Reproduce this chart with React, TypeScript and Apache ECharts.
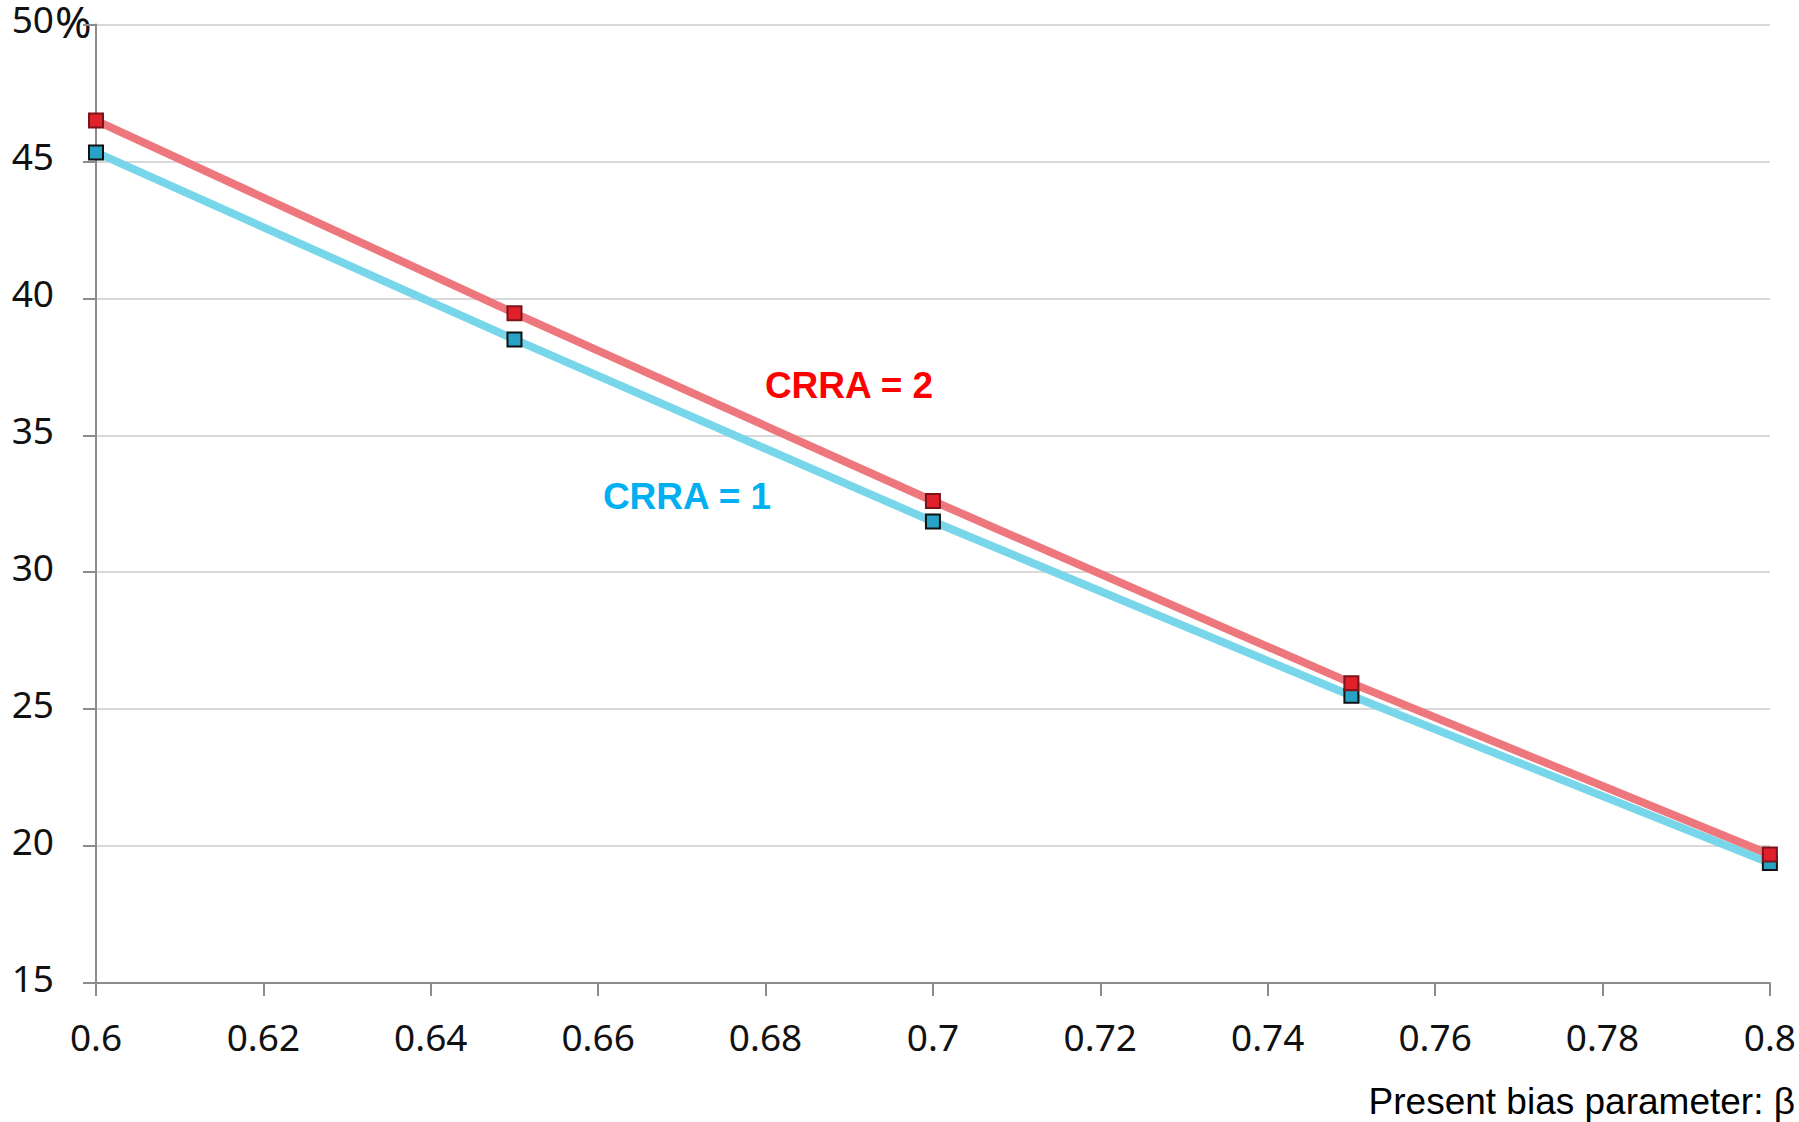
import React, { useEffect, useRef } from "react";
import * as echarts from "echarts";

const betaValues = [0.6, 0.65, 0.7, 0.75, 0.8];
const crra1Values = [45.33, 38.5, 31.85, 25.49, 19.38];
const crra2Values = [46.49, 39.46, 32.6, 25.95, 19.69];
const seriesNames = ["CRRA = 1", "CRRA = 2"];
const xAxisTitle = "Present bias parameter: β";

export default function App() {
  const ref = useRef<HTMLDivElement>(null);
  useEffect(() => {
    document.body.style.margin = "0";
    const chart = echarts.init(ref.current!, null, { renderer: "svg" });
    const axisFont = "'Noto Sans', 'DejaVu Sans', sans-serif";
    const arial = "'Liberation Sans', Arial, sans-serif";
    chart.setOption({
      animation: false,
      backgroundColor: "#ffffff",
      grid: { left: 96, right: 29, top: 23, bottom: 139 },
      xAxis: {
        type: "value",
        min: 0.6,
        max: 0.8,
        interval: 0.02,
        axisLine: { show: true, lineStyle: { color: "#8c8c8c", width: 2 } },
        axisTick: { show: true, inside: false, length: 13, lineStyle: { color: "#8c8c8c", width: 2 } },
        splitLine: { show: false },
        axisLabel: {
          margin: 35,
          fontSize: 37,
          fontFamily: axisFont,
          color: "#111",
          formatter: (v: number) => String(parseFloat(v.toFixed(2))),
        },
      },
      yAxis: {
        type: "value",
        min: 15,
        max: 50,
        interval: 5,
        axisLine: { show: true, lineStyle: { color: "#8c8c8c", width: 2 } },
        axisTick: { show: true, inside: false, length: 13, lineStyle: { color: "#8c8c8c", width: 2 } },
        splitLine: { show: true, lineStyle: { color: "#d9d9d9", width: 2 } },
        axisLabel: {
          margin: 42,
          fontSize: 37,
          fontFamily: axisFont,
          color: "#111",
          verticalAlign: "bottom",
          lineHeight: 36,
          padding: [0, 0, -12, 0],
        },
      },
      series: [
        {
          name: seriesNames[0],
          type: "line",
          data: betaValues.map((b, i) => [b, crra1Values[i]]),
          lineStyle: { color: "#77d6ea", width: 8 },
          symbol: "rect",
          symbolSize: 14,
          itemStyle: { color: "#28a3c6", borderColor: "#111", borderWidth: 2 },
          z: 2,
        },
        {
          name: seriesNames[1],
          type: "line",
          data: betaValues.map((b, i) => [b, crra2Values[i]]),
          lineStyle: { color: "#ee777d", width: 8 },
          symbol: "rect",
          symbolSize: 14,
          itemStyle: { color: "#e0212b", borderColor: "#7b1418", borderWidth: 2 },
          z: 3,
        },
      ],
      graphic: [
        {
          type: "text",
          x: 55,
          y: 21,
          style: { text: "%", fontSize: 44, fontFamily: axisFont, fill: "#111", textAlign: "left", textVerticalAlign: "middle" },
        },
        {
          type: "text",
          x: 849,
          y: 385,
          style: { text: seriesNames[1], fontSize: 37, fontWeight: "bold", fontFamily: arial, fill: "#ff0000", textAlign: "center", textVerticalAlign: "middle" },
        },
        {
          type: "text",
          x: 687,
          y: 496,
          style: { text: seriesNames[0], fontSize: 37, fontWeight: "bold", fontFamily: arial, fill: "#00b0f0", textAlign: "center", textVerticalAlign: "middle" },
        },
        {
          type: "text",
          x: 1795,
          y: 1101,
          style: { text: xAxisTitle, fontSize: 37, fontFamily: arial, fill: "#000", textAlign: "right", textVerticalAlign: "middle" },
        },
      ],
    });
    return () => chart.dispose();
  }, []);
  return <div ref={ref} style={{ position: "fixed", left: 0, top: 0, width: 1799, height: 1122 }} />;
}
